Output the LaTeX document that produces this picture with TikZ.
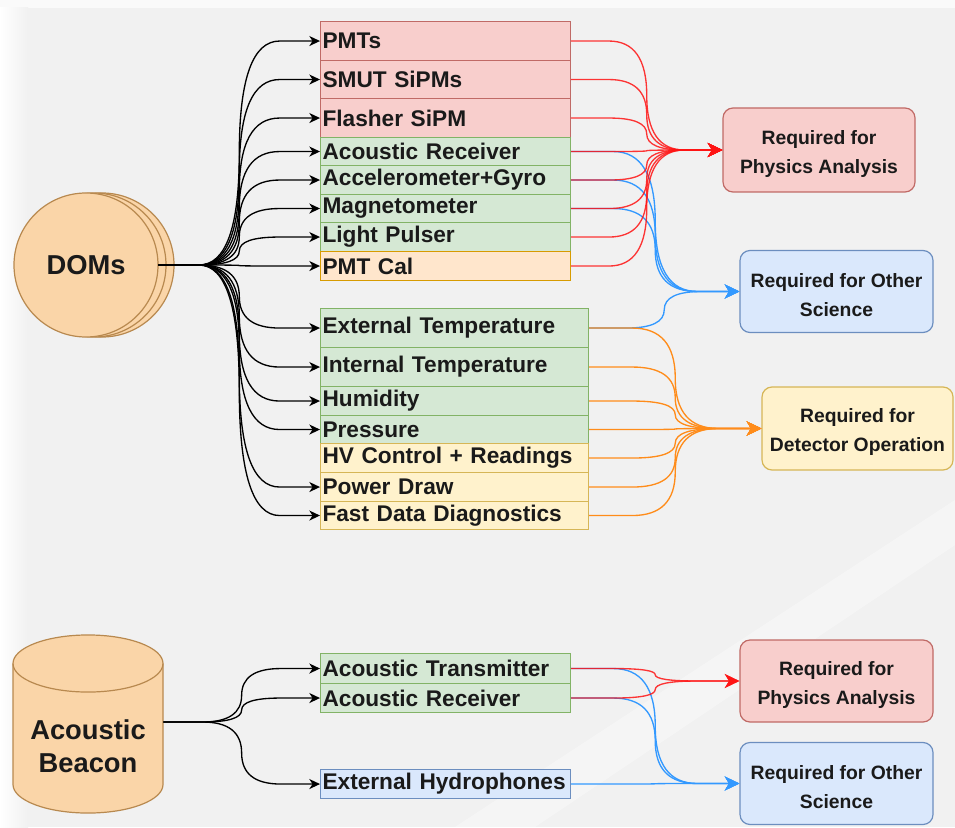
\documentclass[tikz,border=0pt]{standalone}
\usepackage{fontspec}
\setmainfont{Liberation Sans}
\usetikzlibrary{arrows.meta,calc}

% palette
\definecolor{bgcol}{HTML}{F1F1F1}
\definecolor{redfill}{HTML}{F8CECC}    \definecolor{redline}{HTML}{C06A66}
\definecolor{greenfill}{HTML}{D5E8D4}  \definecolor{greenline}{HTML}{82B366}
\definecolor{peachfill}{HTML}{FFE6CC}  \definecolor{peachline}{HTML}{D79B00}
\definecolor{yellowfill}{HTML}{FFF2CC} \definecolor{yellowline}{HTML}{D6B656}
\definecolor{bluefill}{HTML}{DAE8FC}   \definecolor{blueline}{HTML}{6C8EBF}
\definecolor{domfill}{HTML}{FAD5A8}    \definecolor{domline}{HTML}{B8894F}
\definecolor{wirered}{HTML}{FF1414}
\definecolor{wireblue}{HTML}{3399FF}
\definecolor{wireorange}{HTML}{FF8C1A}
\definecolor{inkcol}{HTML}{1A1A1A}

\newcommand\itemfont{\fontsize{17}{20}\selectfont\bfseries}
\newcommand\reqfont{\fontsize{14.5}{21.75}\selectfont\bfseries}
\newcommand\srcfont{\fontsize{20.5}{24.75}\selectfont\bfseries}
% taller first line so the two-line captions sit a little lower in their boxes
\newcommand\reqstrut{\rule{0pt}{15.8pt}}

\tikzset{
  % orthogonal route with softened corners: out horizontally, vertical run halfway, in horizontally
  elbow/.style={to path={
    let \p1=(\tikztostart), \p2=(\tikztotarget) in
    -- ({(3*\x1+\x2)/4},\y1)
    .. controls ({(7*\x1+5*\x2)/12},\y1) and ({(\x1+\x2)/2},{(5*\y1+\y2)/6})
    .. ({(\x1+\x2)/2},{(\y1+\y2)/2})
    .. controls ({(\x1+\x2)/2},{(\y1+5*\y2)/6}) and ({(5*\x1+7*\x2)/12},\y2)
    .. ({(\x1+3*\x2)/4},\y2)
    -- (\tikztotarget)}},
  itembox/.style={draw, rectangle, line width=0.8pt, inner xsep=1.5pt, inner ysep=0pt,
    anchor=north west, align=left, font=\itemfont, text=inkcol},
  narrowlist/.style={text width=184.5pt},
  widelist/.style={text width=198pt},
  redbox/.style={fill=redfill, draw=redline},
  greenbox/.style={fill=greenfill, draw=greenline},
  peachbox/.style={fill=peachfill, draw=peachline},
  yellowbox/.style={fill=yellowfill, draw=yellowline},
  bluebox/.style={fill=bluefill, draw=blueline},
  reqbox/.style={draw, rectangle, rounded corners=7.5pt, line width=0.9pt,
    minimum width=144.75pt, minimum height=61.5pt, align=center, font=\reqfont, text=inkcol},
  blackwire/.style={draw=black, line width=1pt, -{Stealth[length=8pt,width=7.5pt,inset=2.4pt]}},
  colwire/.style={line width=1pt, -{Stealth[length=11pt,width=10.5pt,inset=3.2pt]}},
  redwire/.style={colwire, draw=wirered, draw opacity=0.85},
  bluewire/.style={colwire, draw=wireblue},
  orangewire/.style={colwire, draw=wireorange},
  srcshape/.style={fill=domfill, draw=domline, line width=0.9pt}
}

\begin{document}
\begin{tikzpicture}[x=0.75pt,y=-0.75pt]
% canvas
\fill[bgcol] (0,0) rectangle (955,827);
\fill[white,opacity=0.7] (0,0) rectangle (955,8);
\shade[left color=white, right color=bgcol] (0,8) rectangle (28,827);
\fill[white,opacity=0.35] (455,827) -- (955,500) -- (955,545) -- (535,827) -- cycle;
\useasboundingbox (0,0) rectangle (955,827);

% ---------- DOMs (stack of three discs) ----------
\draw[srcshape] (102,265) circle[radius=54pt];
\draw[srcshape] (94,265) circle[radius=54pt];
\node[srcshape, circle, minimum size=108pt, inner sep=0pt, font=\srcfont, text=inkcol]
  (dom) at (86,265) {DOMs};

% ---------- Acoustic Beacon (cylinder) ----------
\node[minimum width=112.5pt, minimum height=133.5pt, inner sep=0pt] (beacon) at (88,722) {};
\fill[domfill] (13,663.5) -- (13,784.5)
  arc[start angle=180, end angle=360, x radius=56.25pt, y radius=21.4pt]
  -- (163,663.5)
  arc[start angle=0, end angle=180, x radius=56.25pt, y radius=21.4pt] -- cycle;
\draw[draw=domline, line width=0.9pt] (13,663.5) -- (13,784.5)
  arc[start angle=180, end angle=360, x radius=56.25pt, y radius=21.4pt] -- (163,663.5);
\draw[draw=domline, line width=0.9pt] (88,663.5) ellipse[x radius=56.25pt, y radius=21.4pt];
\node[align=center, font=\srcfont, text=inkcol] (beacontext) at (88,746) {Acoustic\\Beacon};

% ---------- DOM sensor list ----------
\node[itembox, narrowlist, redbox,    minimum height=29.25pt] (pmt)     at (320,21)  {PMTs};
\node[itembox, narrowlist, redbox,    minimum height=28.5pt]  (smut)    at (320,60)  {SMUT SiPMs};
\node[itembox, narrowlist, redbox,    minimum height=29.25pt] (flasher) at (320,98)  {Flasher SiPM};
\node[itembox, narrowlist, greenbox,  minimum height=21pt]    (acrec)   at (320,137) {Acoustic Receiver};
\node[itembox, narrowlist, greenbox,  minimum height=21.75pt] (accel)   at (320,165) {Accelerometer+Gyro};
\node[itembox, narrowlist, greenbox,  minimum height=21pt]    (magnet)  at (320,194) {Magnetometer};
\node[itembox, narrowlist, greenbox,  minimum height=21.75pt] (pulser)  at (320,222) {Light Pulser};
\node[itembox, narrowlist, peachbox,  minimum height=21.75pt] (pmtcal)  at (320,251) {PMT Cal};

\node[itembox, widelist, greenbox,  minimum height=29.25pt] (exttemp)  at (320,308) {External Temperature};
\node[itembox, widelist, greenbox,  minimum height=29.25pt] (inttemp)  at (320,347) {Internal Temperature};
\node[itembox, widelist, greenbox,  minimum height=21.75pt] (humid)    at (320,386) {Humidity};
\node[itembox, widelist, greenbox,  minimum height=21pt]    (press)    at (320,415) {Pressure};
\node[itembox, widelist, yellowbox, minimum height=21.75pt] (hv)       at (320,443) {HV Control + Readings};
\node[itembox, widelist, yellowbox, minimum height=21.75pt] (power)    at (320,472) {Power Draw};
\node[itembox, widelist, yellowbox, minimum height=21pt]    (fastdata) at (320,501) {Fast Data Diagnostics};

% ---------- beacon sensor list ----------
\node[itembox, narrowlist, greenbox, minimum height=22.5pt]  (actx)  at (320,653) {Acoustic Transmitter};
\node[itembox, narrowlist, greenbox, minimum height=21.75pt] (acrx)  at (320,683) {Acoustic Receiver};
\node[itembox, narrowlist, bluebox,  minimum height=21.75pt] (hydro) at (320,769) {External Hydrophones};

% ---------- requirement categories ----------
\node[reqbox, redbox,    minimum width=144pt, minimum height=63pt] (phys1)  at (819,150)     {\reqstrut Required for\\Physics Analysis};
\node[reqbox, bluebox]                                             (other1) at (836.5,291.5) {\reqstrut Required for Other\\Science};
\node[reqbox, yellowbox, minimum width=143.25pt, minimum height=62.25pt] (detop) at (857.5,428.5) {\reqstrut Required for\\Detector Operation};
\node[reqbox, redbox]                                              (phys2)  at (836.5,681)   {\reqstrut Required for\\Physics Analysis};
\node[reqbox, bluebox]                                             (other2) at (836.5,783.5) {\reqstrut Required for Other\\Science};

% ---------- readout fan-out ----------
\foreach \t in {pmt,smut,flasher,acrec,accel,magnet,pulser,pmtcal,
                exttemp,inttemp,humid,press,power,fastdata}
  \draw[blackwire] (dom.east) to[elbow] (\t.west);
\foreach \t in {actx,acrx,hydro}
  \draw[blackwire] (beacon.east) to[elbow] (\t.west);

% ---------- usage routing ----------
\foreach \s in {acrec,accel,magnet,exttemp}
  \draw[bluewire] (\s.east) to[elbow] (other1.west);
\foreach \s in {pmt,smut,flasher,acrec,accel,magnet,pulser,pmtcal}
  \draw[redwire] (\s.east) to[elbow] (phys1.west);
\foreach \s in {exttemp,inttemp,humid,press,hv,power,fastdata}
  \draw[orangewire] (\s.east) to[elbow] (detop.west);
\foreach \s in {actx,acrx,hydro}
  \draw[bluewire] (\s.east) to[elbow] (other2.west);
\foreach \s in {actx,acrx}
  \draw[redwire] (\s.east) to[elbow] (phys2.west);
\end{tikzpicture}
\end{document}
